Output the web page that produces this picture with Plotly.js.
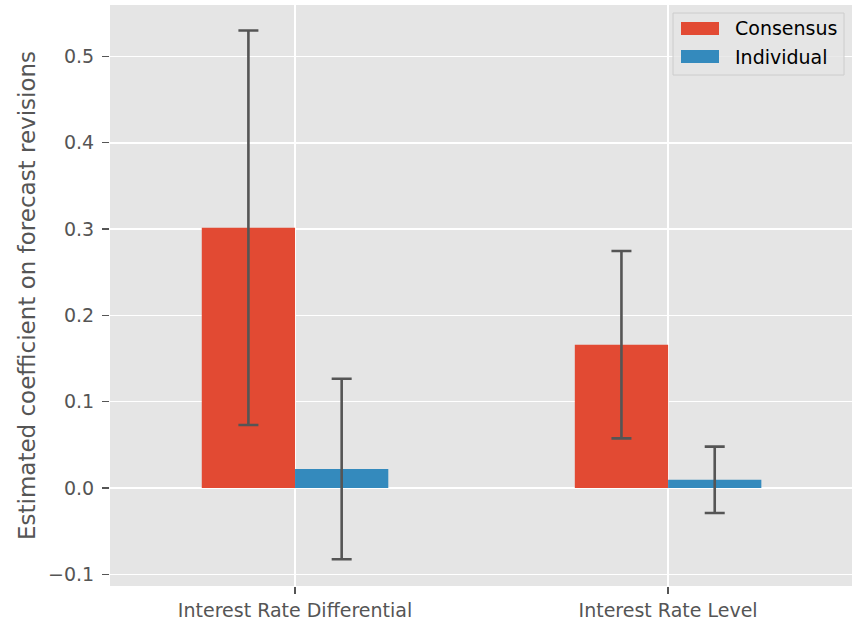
<!DOCTYPE html>
<html>
<head>
<meta charset="utf-8">
<script src="https://cdn.plot.ly/plotly-3.0.1.min.js"></script>
<style>html,body{margin:0;padding:0;background:#fff;}#chart{width:857px;height:621px;}</style>
</head>
<body>
<div id="chart"></div>
<script>
const categories = ["Interest Rate Differential", "Interest Rate Level"];
const seriesNames = ["Consensus", "Individual"];
const seriesColors = ["#E24A33", "#348ABD"];
const consensusCoef = [0.3015, 0.1660];
const consensusErr = [0.2285, 0.1085];
const individualCoef = [0.0220, 0.0095];
const individualErr = [0.1045, 0.0385];
const xIdx = [0, 1];

const errStyle = {type: 'data', visible: true, color: '#555555', thickness: 2.6, width: 10};

const traces = [
  {type: 'bar', name: seriesNames[0], x: xIdx, y: consensusCoef,
   marker: {color: seriesColors[0], line: {width: 0}},
   error_y: Object.assign({array: consensusErr}, errStyle)},
  {type: 'bar', name: seriesNames[1], x: xIdx, y: individualCoef,
   marker: {color: seriesColors[1], line: {width: 0}},
   error_y: Object.assign({array: individualErr}, errStyle)}
];

const W = 857, H = 621;
const M = {l: 110, r: 5, t: 5, b: 35};
const PW = W - M.l - M.r, PH = H - M.t - M.b;
// paper coords are relative to plot area
const px = v => (v - M.l) / PW, py = v => (H - M.b - v) / PH;

// custom legend (matplotlib style: wide patches)
const shapes = [
  {type: 'rect', xref: 'paper', yref: 'paper', x0: px(673), x1: px(844), y0: py(75), y1: py(13),
   fillcolor: 'rgba(229,229,229,0.8)', line: {color: '#cccccc', width: 1}, layer: 'above'}
];
const annotations = [];
seriesNames.forEach((n, i) => {
  const yc = 28.5 + i * 28;
  shapes.push({type: 'rect', xref: 'paper', yref: 'paper', x0: px(681), x1: px(719),
    y0: py(yc + 6.5), y1: py(yc - 6.5), fillcolor: seriesColors[i], line: {width: 0}, layer: 'above'});
  annotations.push({xref: 'paper', yref: 'paper', x: px(733), y: py(yc), xanchor: 'left', yanchor: 'middle',
    text: n, showarrow: false, font: {family: 'DejaVu Sans', size: 19, color: '#000000'}});
});

const layout = {
  width: W, height: H,
  margin: M,
  paper_bgcolor: '#ffffff',
  plot_bgcolor: '#E5E5E5',
  barmode: 'group', bargap: 0.5, bargroupgap: 0,
  font: {family: 'DejaVu Sans', color: '#555555'},
  showlegend: false,
  xaxis: {
    range: [-0.496, 1.493], tickvals: xIdx, ticktext: categories,
    showgrid: true, gridcolor: '#ffffff', gridwidth: 1.6,
    ticks: 'outside', ticklen: 7, tickwidth: 1.3, tickcolor: '#555555',
    tickfont: {size: 19, color: '#555555'}, zeroline: false, showline: false
  },
  yaxis: {
    range: [-0.1135, 0.5595], tickvals: [-0.1, 0, 0.1, 0.2, 0.3, 0.4, 0.5],
    ticktext: ['\u22120.1', '0.0', '0.1', '0.2', '0.3', '0.4', '0.5'],
    showgrid: true, gridcolor: '#ffffff', gridwidth: 1.6,
    zeroline: true, zerolinecolor: '#ffffff', zerolinewidth: 1.6,
    ticks: 'outside', ticklen: 7, tickwidth: 1.3, tickcolor: '#555555',
    ticklabelstandoff: 4,
    tickfont: {size: 19, color: '#555555'}, showline: false,
    title: {text: 'Estimated coefficient on forecast revisions', font: {size: 23, color: '#555555'}, standoff: 6}
  },
  shapes: shapes,
  annotations: annotations
};

Plotly.newPlot('chart', traces, layout, {displayModeBar: false, staticPlot: true});
</script>
</body>
</html>
